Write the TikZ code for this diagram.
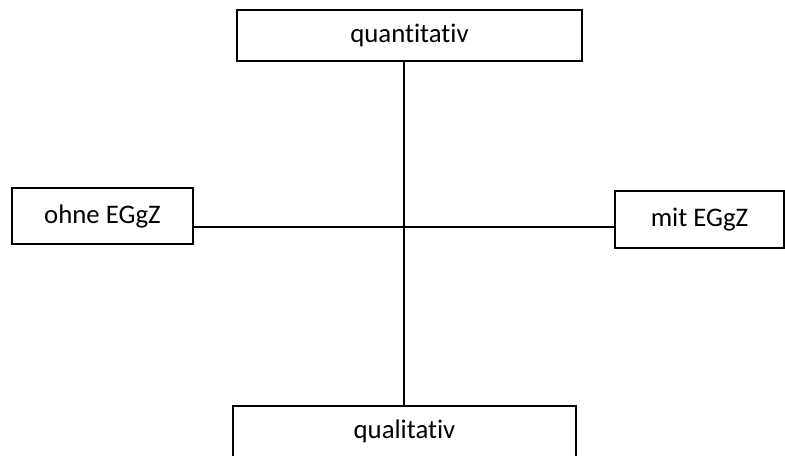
\documentclass[tikz,border=0pt]{standalone}
\usepackage{fontspec}
\setmainfont[Ligatures={NoCommon}]{Carlito}

\begin{document}
\begin{tikzpicture}[x=0.5pt,y=-0.5pt,
    box/.style={draw,line width=1pt,inner sep=0pt,font=\fontsize{13.4}{16}\selectfont}]
  \clip (0,0) rectangle (785,455);
  \fill[white] (0,0) rectangle (785,455);
  \node[box,minimum width=172.5pt,minimum height=25.5pt] (quanti) at (409.5,35.5) {quantitativ};
  \node[box,minimum width=90.5pt,minimum height=28pt] (ohne) at (102.5,216) {ohne EGgZ};
  \node[box,minimum width=84.5pt,minimum height=28.5pt] (mit) at (699.5,219.5) {mit EGgZ};
  \node[box,minimum width=171.5pt,minimum height=25.5pt] (quali) at (404.5,431.5) {qualitativ};
  \coordinate (mitte) at (404,227);
  \draw[line width=1.2pt] (mitte |- quanti.south) -- (mitte |- quali.north);
  \draw[line width=1.2pt] (mitte -| ohne.east) -- (mitte -| mit.west);
\end{tikzpicture}
\end{document}
